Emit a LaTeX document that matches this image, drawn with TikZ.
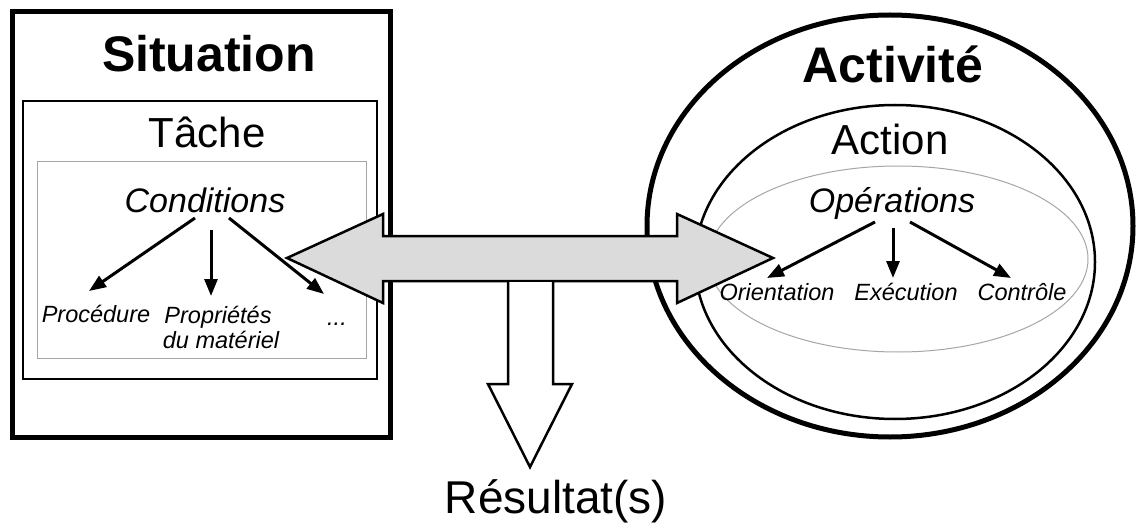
\documentclass[tikz,border=0pt]{standalone}
\usepackage{fontspec}
\setmainfont{Liberation Sans}
\usetikzlibrary{arrows.meta}
\tikzset{
  big/.style={font=\fontsize{50}{60}\selectfont\bfseries, anchor=base, inner sep=0},
  mid/.style={font=\fontsize{42}{50}\selectfont, anchor=base, inner sep=0},
  cond/.style={font=\fontsize{34}{40}\selectfont\itshape, anchor=base, inner sep=0},
  small/.style={font=\fontsize{23.5}{25}\selectfont\itshape, anchor=base, inner sep=0},
  conn/.style={line width=3, -{Triangle[length=17,width=13]}},
}
\begin{document}
\begin{tikzpicture}[x=1pt,y=-1pt]
\useasboundingbox (0,0) rectangle (1136,524);
\fill[white] (0,0) rectangle (1136,524);
% Situation
\draw[line width=5] (12,12) rectangle (390,437);
\draw[line width=2.5] (23,101) rectangle (377,379);
\draw[line width=1, gray!70] (37,162) rectangle (366,358);
\node[big] (sit) at (209,72) {Situation};
\node[mid] (tache) at (207,148) {Tâche};
\node[cond] (condi) at (205,213) {Conditions};
\node[small] (proc) at (96,322) {Procédure};
\node[small] (prop) at (218,323) {Propriétés};
\node[small] (mat) at (221,348) {du matériel};
\node[small] (dots) at (337,325) {...};
\coordinate (c1) at (195,218); \coordinate (c1e) at (89,291);
\coordinate (c2) at (211,230); \coordinate (c2e) at (211,296);
\coordinate (c3) at (229,218); \coordinate (c3e) at (324,294);
\draw[conn] (c1) -- (c1e);
\draw[conn] (c2) -- (c2e);
\draw[conn] (c3) -- (c3e);
% Activite
\draw[line width=5] (890,226) ellipse [x radius=243, y radius=211];
\draw[line width=2.5] (895,262) ellipse [x radius=200, y radius=157];
\draw[line width=1, gray!70] (898,259) ellipse [x radius=190, y radius=93];
\node[big] (act) at (893,83) {Activité};
\node[mid] (action) at (890,155) {Action};
\node[cond] (ops) at (892,213) {Opérations};
\node[small] (ori) at (777,300) {Orientation};
\node[small] (exe) at (906,300) {Exécution};
\node[small] (ctl) at (1022,300) {Contrôle};
\coordinate (o1) at (875,222); \coordinate (o1e) at (767,278);
\coordinate (o2) at (893,228); \coordinate (o2e) at (893,278);
\coordinate (o3) at (910,222); \coordinate (o3e) at (1011,278);
\draw[conn] (o1) -- (o1e);
\draw[conn] (o2) -- (o2e);
\draw[conn] (o3) -- (o3e);
% double arrow
\draw[line width=2.5, fill=black!14, line join=miter]
  (287,258) -- (383,214) -- (383,236) -- (677,236) -- (677,214) -- (773,258)
  -- (677,303) -- (677,281) -- (383,281) -- (383,303) -- cycle;
% down arrow
\draw[line width=2.5, fill=white, line join=miter]
  (508,282) -- (508,384) -- (488,384) -- (530,467) -- (572,384) -- (553,384) -- (553,282);
\node[font=\fontsize{46}{50}\selectfont, anchor=base, inner sep=0] (res) at (556,513) {Résultat(s)};
\end{tikzpicture}
\end{document}
